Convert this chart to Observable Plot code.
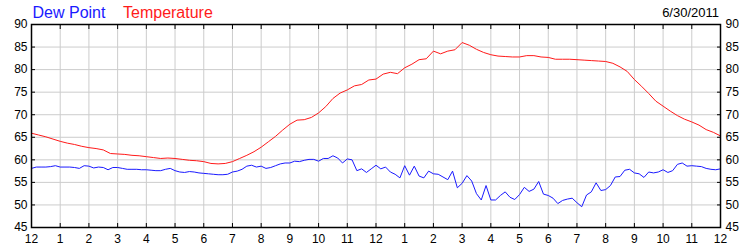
<!DOCTYPE html>
<html>
<head>
<meta charset="utf-8">
<script src="https://cdn.jsdelivr.net/npm/d3@7"></script>
<script src="https://cdn.jsdelivr.net/npm/@observablehq/plot@0.6"></script>
<style>
  html, body { margin: 0; padding: 0; background: #fff; }
  svg { display: block; }
</style>
</head>
<body>
<div id="chart"></div>
<script>
// ---- data ----
const dateLabel = "6/30/2011";
const seriesNames = ["Dew Point", "Temperature"];
const seriesColors = ["#1a1aff", "#ff1a1a"];
const hourTicks = d3.range(0, 25);
const hourLabels = ["12","1","2","3","4","5","6","7","8","9","10","11","12","1","2","3","4","5","6","7","8","9","10","11","12"];
const valueTicks = [45, 50, 55, 60, 65, 70, 75, 80, 85, 90];

// Temperature, one reading every 15 minutes from midnight to midnight
const tempStepMinutes = 15;
const temperature = [
  65.9, 65.5, 65.1, 64.6,   // 0h
  64.1, 63.7, 63.4, 63.0,   // 1h
  62.7, 62.5, 62.2, 61.4,   // 2h
  61.3, 61.2, 61.0, 60.9,   // 3h
  60.7, 60.5, 60.3, 60.4,   // 4h
  60.3, 60.1, 59.9, 59.8,   // 5h
  59.6, 59.2, 59.1, 59.2,   // 6h
  59.6, 60.3, 61.0, 61.8,   // 7h
  62.8, 64.0, 65.2, 66.6,   // 8h
  67.9, 68.8, 68.9, 69.4,   // 9h
  70.4, 71.8, 73.6, 74.8,   // 10h
  75.5, 76.4, 76.7, 77.7,   // 11h
  77.9, 79.0, 79.4, 79.1,   // 12h
  80.4, 81.2, 82.2, 82.4,   // 13h
  84.1, 83.5, 84.1, 84.4,   // 14h
  86.0, 85.4, 84.5, 83.8,   // 15h
  83.3, 83.0, 82.9, 82.8,   // 16h
  82.8, 83.1, 83.1, 82.8,   // 17h
  82.7, 82.3, 82.3, 82.3,   // 18h
  82.2, 82.1, 82.0, 81.9,   // 19h
  81.8, 81.4, 80.6, 79.6,   // 20h
  77.8, 76.3, 74.7, 73.0,   // 21h
  71.9, 70.8, 69.8, 69.0,   // 22h
  68.4, 67.7, 66.7, 66.1,   // 23h
  65.3                      // 24h
];

// Dew point, one reading every 10 minutes from midnight to midnight
const dewStepMinutes = 10;
const dewPoint = [
  58.1, 58.4, 58.4, 58.4, 58.5, 58.7,   // 0h
  58.4, 58.4, 58.4, 58.3, 58.1, 58.7,   // 1h
  58.6, 58.2, 58.4, 58.3, 57.8, 58.3,   // 2h
  58.3, 58.1, 57.9, 57.9, 57.9, 57.8,   // 3h
  57.8, 57.7, 57.6, 57.6, 57.9, 58.1,   // 4h
  57.6, 57.3, 57.2, 57.4, 57.3, 57.1,   // 5h
  57.0, 56.9, 56.8, 56.7, 56.7, 56.8,   // 6h
  57.3, 57.5, 57.9, 58.6, 58.8, 58.4,   // 7h
  58.6, 58.1, 58.3, 58.7, 59.1, 59.3,   // 8h
  59.3, 59.7, 59.6, 59.9, 60.1, 60.1,   // 9h
  59.7, 60.3, 60.3, 60.9, 60.4, 59.3,   // 10h
  60.2, 60.0, 57.6, 58.0, 57.2, 58.0,   // 11h
  58.8, 58.0, 58.4, 57.3, 56.8, 56.0,   // 12h
  58.7, 56.6, 58.6, 56.4, 56.0, 57.5,   // 13h
  56.9, 56.8, 56.2, 55.6, 57.5, 53.8,   // 14h
  54.8, 56.5, 55.3, 52.5, 51.1, 54.3,   // 15h
  51.1, 51.1, 52.1, 52.9, 51.7, 51.2,   // 16h
  52.3, 53.9, 53.0, 53.5, 55.2, 52.4,   // 17h
  52.1, 51.5, 50.3, 51.0, 51.3, 51.5,   // 18h
  50.5, 49.6, 52.2, 52.9, 54.9, 53.2,   // 19h
  53.4, 54.3, 56.2, 56.3, 57.7, 57.9,   // 20h
  57.1, 56.9, 56.1, 57.3, 57.1, 57.3,   // 21h
  57.8, 57.2, 57.6, 59.0, 59.3, 58.6,   // 22h
  58.7, 58.6, 58.5, 58.1, 57.9, 57.8,   // 23h
  58.0                                  // 24h
];

// ---- table for the library ----
const rows = [
  ...dewPoint.map((v, i) => ({series: seriesNames[0], hour: i * dewStepMinutes / 60, value: v})),
  ...temperature.map((v, i) => ({series: seriesNames[1], hour: i * tempStepMinutes / 60, value: v}))
];
const fmtHour = d => hourLabels[hourTicks.indexOf(d)];
const fontFamily = "'Liberation Sans', Arial, Helvetica, sans-serif";

const chart = Plot.plot({
  width: 750,
  height: 250,
  marginTop: 24,
  marginBottom: 23,
  marginLeft: 31,
  marginRight: 30,
  style: {fontFamily, fontSize: "12px", background: "#fff", color: "#000", overflow: "visible"},
  x: {domain: [0, 24]},
  y: {domain: [45, 90]},
  color: {domain: seriesNames, range: seriesColors},
  marks: [
    Plot.gridX(hourTicks, {stroke: "#cccccc", strokeOpacity: 1}),
    Plot.gridY(valueTicks, {stroke: "#cccccc", strokeOpacity: 1}),
    Plot.line(rows, {x: "hour", y: "value", z: "series", stroke: "series", strokeWidth: 1}),
    // inward ticks
    Plot.axisX(hourTicks, {anchor: "bottom", tickSize: -4, tickFormat: () => "", label: null, stroke: "#000"}),
    Plot.axisX(hourTicks, {anchor: "top", tickSize: -4, tickFormat: () => "", label: null, stroke: "#000"}),
    Plot.axisY(valueTicks, {anchor: "left", tickSize: -4, tickFormat: () => "", label: null, stroke: "#000"}),
    Plot.axisY(valueTicks, {anchor: "right", tickSize: -4, tickFormat: () => "", label: null, stroke: "#000"}),
    // labels
    Plot.axisX(hourTicks, {anchor: "bottom", tickSize: 0, tickPadding: 7, tickFormat: fmtHour, label: null, fill: "#000"}),
    Plot.axisY(valueTicks, {anchor: "left", tickSize: 0, tickPadding: 4, label: null, fill: "#000"}),
    Plot.axisY(valueTicks, {anchor: "right", tickSize: 0, tickPadding: 5, label: null, fill: "#000"}),
    Plot.frame({stroke: "#000", strokeWidth: 1.5}),
    // legend and date above the frame
    Plot.text([seriesNames[0]], {text: d => d, frameAnchor: "top-left", textAnchor: "start", lineAnchor: "middle", dx: 1, dy: -12, fill: seriesColors[0], fontSize: 16}),
    Plot.text([seriesNames[1]], {text: d => d, frameAnchor: "top-left", textAnchor: "start", lineAnchor: "middle", dx: 91.5, dy: -12, fill: seriesColors[1], fontSize: 16}),
    Plot.text([dateLabel], {text: d => d, frameAnchor: "top-right", textAnchor: "end", lineAnchor: "middle", dx: -1.5, dy: -11.5, fill: "#000", fontSize: 13})
  ]
});
document.getElementById("chart").appendChild(chart);
</script>
</body>
</html>
